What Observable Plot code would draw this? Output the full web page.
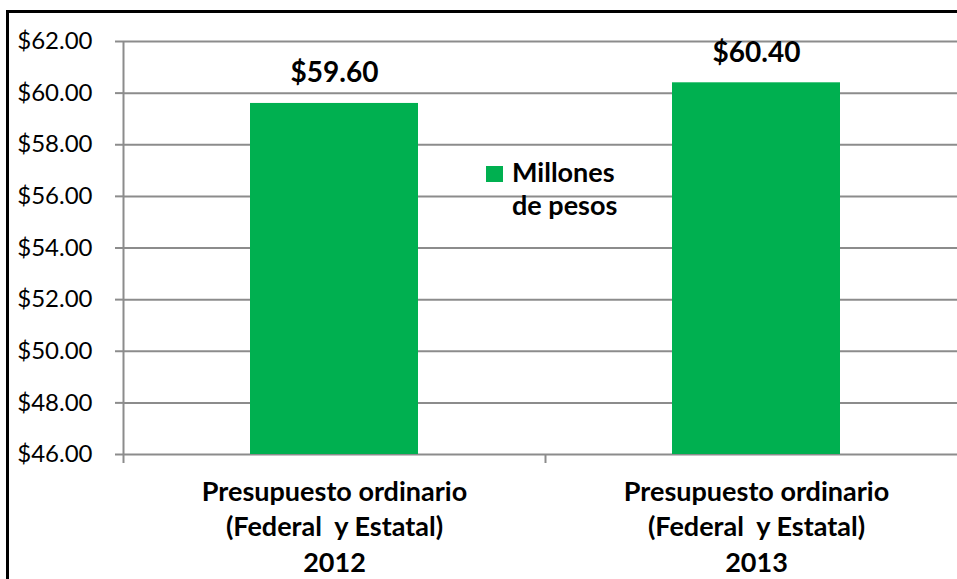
<!DOCTYPE html>
<html>
<head>
<meta charset="utf-8">
<script src="https://cdn.jsdelivr.net/npm/d3@7"></script>
<script src="https://cdn.jsdelivr.net/npm/@observablehq/plot@0.6"></script>
<style>
  html, body { margin: 0; padding: 0; background: #fff; overflow: hidden; }
  #wrap { position: relative; width: 957px; height: 579px; overflow: hidden; background: #fff; }
  .edge { position: absolute; background: #000; }
  #edgeTop { left: 6px; top: 10px; width: 951px; height: 3px; }
  #edgeLeft { left: 6px; top: 10px; width: 3px; height: 569px; }
  #chart { position: absolute; left: 0; top: 0; width: 957px; height: 579px; }
  #chart svg text { white-space: pre; }
  #legend { position: absolute; left: 486px; top: 155px; font-family: Lato, sans-serif; font-weight: bold; font-size: 27px; line-height: 33px; color: #000; }
  #legend .sw { position: absolute; left: 0; top: 11px; width: 17px; height: 16px; background: #00B050; }
  #legend .lbl { position: absolute; left: 26px; top: 0; white-space: nowrap; }
</style>
</head>
<body>
<div id="wrap">
  <div class="edge" id="edgeTop"></div>
  <div class="edge" id="edgeLeft"></div>
  <div id="chart"></div>
  <div id="legend"><div class="sw"></div><div class="lbl"></div></div>
</div>
<script>
const categories = [
  "Presupuesto ordinario\n(Federal  y Estatal)\n2012",
  "Presupuesto ordinario\n(Federal  y Estatal)\n2013"
];
const values = [59.6, 60.4];
const yTicks = [46, 48, 50, 52, 54, 56, 58, 60, 62];
const seriesName = ["Millones", "de pesos"];

const green = "#00B050";
const gray = "#8c8c8c";
const fmt = d => "$" + d.toFixed(2);
const idx = values.map((v, i) => i);

const plot = Plot.plot({
  width: 957,
  height: 579,
  marginLeft: 123,
  marginRight: 0,
  marginTop: 41,
  marginBottom: 125,
  style: { fontFamily: "Lato, sans-serif", fontSize: "24px", color: "#000", background: "transparent" },
  x: { domain: [0, categories.length], range: [123, 967], axis: null },
  y: { domain: [yTicks[0], yTicks[yTicks.length - 1]], axis: null },
  marks: [
    Plot.gridY(yTicks, { stroke: gray, strokeOpacity: 1, strokeWidth: 2 }),
    Plot.axisY({ ticks: yTicks, tickFormat: fmt, tickSize: 8, tickPadding: 23, stroke: gray, strokeWidth: 2, fill: "#000", fontSize: 24 }),
    Plot.axisX({ ticks: d3.range(categories.length + 1), tickFormat: () => "", tickSize: 9, stroke: gray, strokeWidth: 2 }),
    Plot.ruleX([0], { stroke: gray, strokeWidth: 2 }),
    Plot.rectY(idx, {
      x1: i => i, x2: i => i + 1,
      y1: yTicks[0], y2: i => values[i],
      fill: green, insetLeft: 127, insetRight: 127
    }),
    Plot.text(idx, {
      x: i => i + 0.5, y: i => values[i], text: i => fmt(values[i]),
      lineAnchor: "bottom", dy: -21, fontSize: 28, fontWeight: "bold", fill: "#000"
    }),
    Plot.text(idx, {
      x: i => i + 0.5, frameAnchor: "bottom", text: i => categories[i],
      lineAnchor: "top", dy: 21, lineHeight: 1.315, fontSize: 27, fontWeight: "bold", fill: "#000"
    })
  ]
});
document.getElementById("chart").appendChild(plot);
document.querySelector("#legend .lbl").innerHTML = seriesName.join("<br>");
</script>
</body>
</html>
